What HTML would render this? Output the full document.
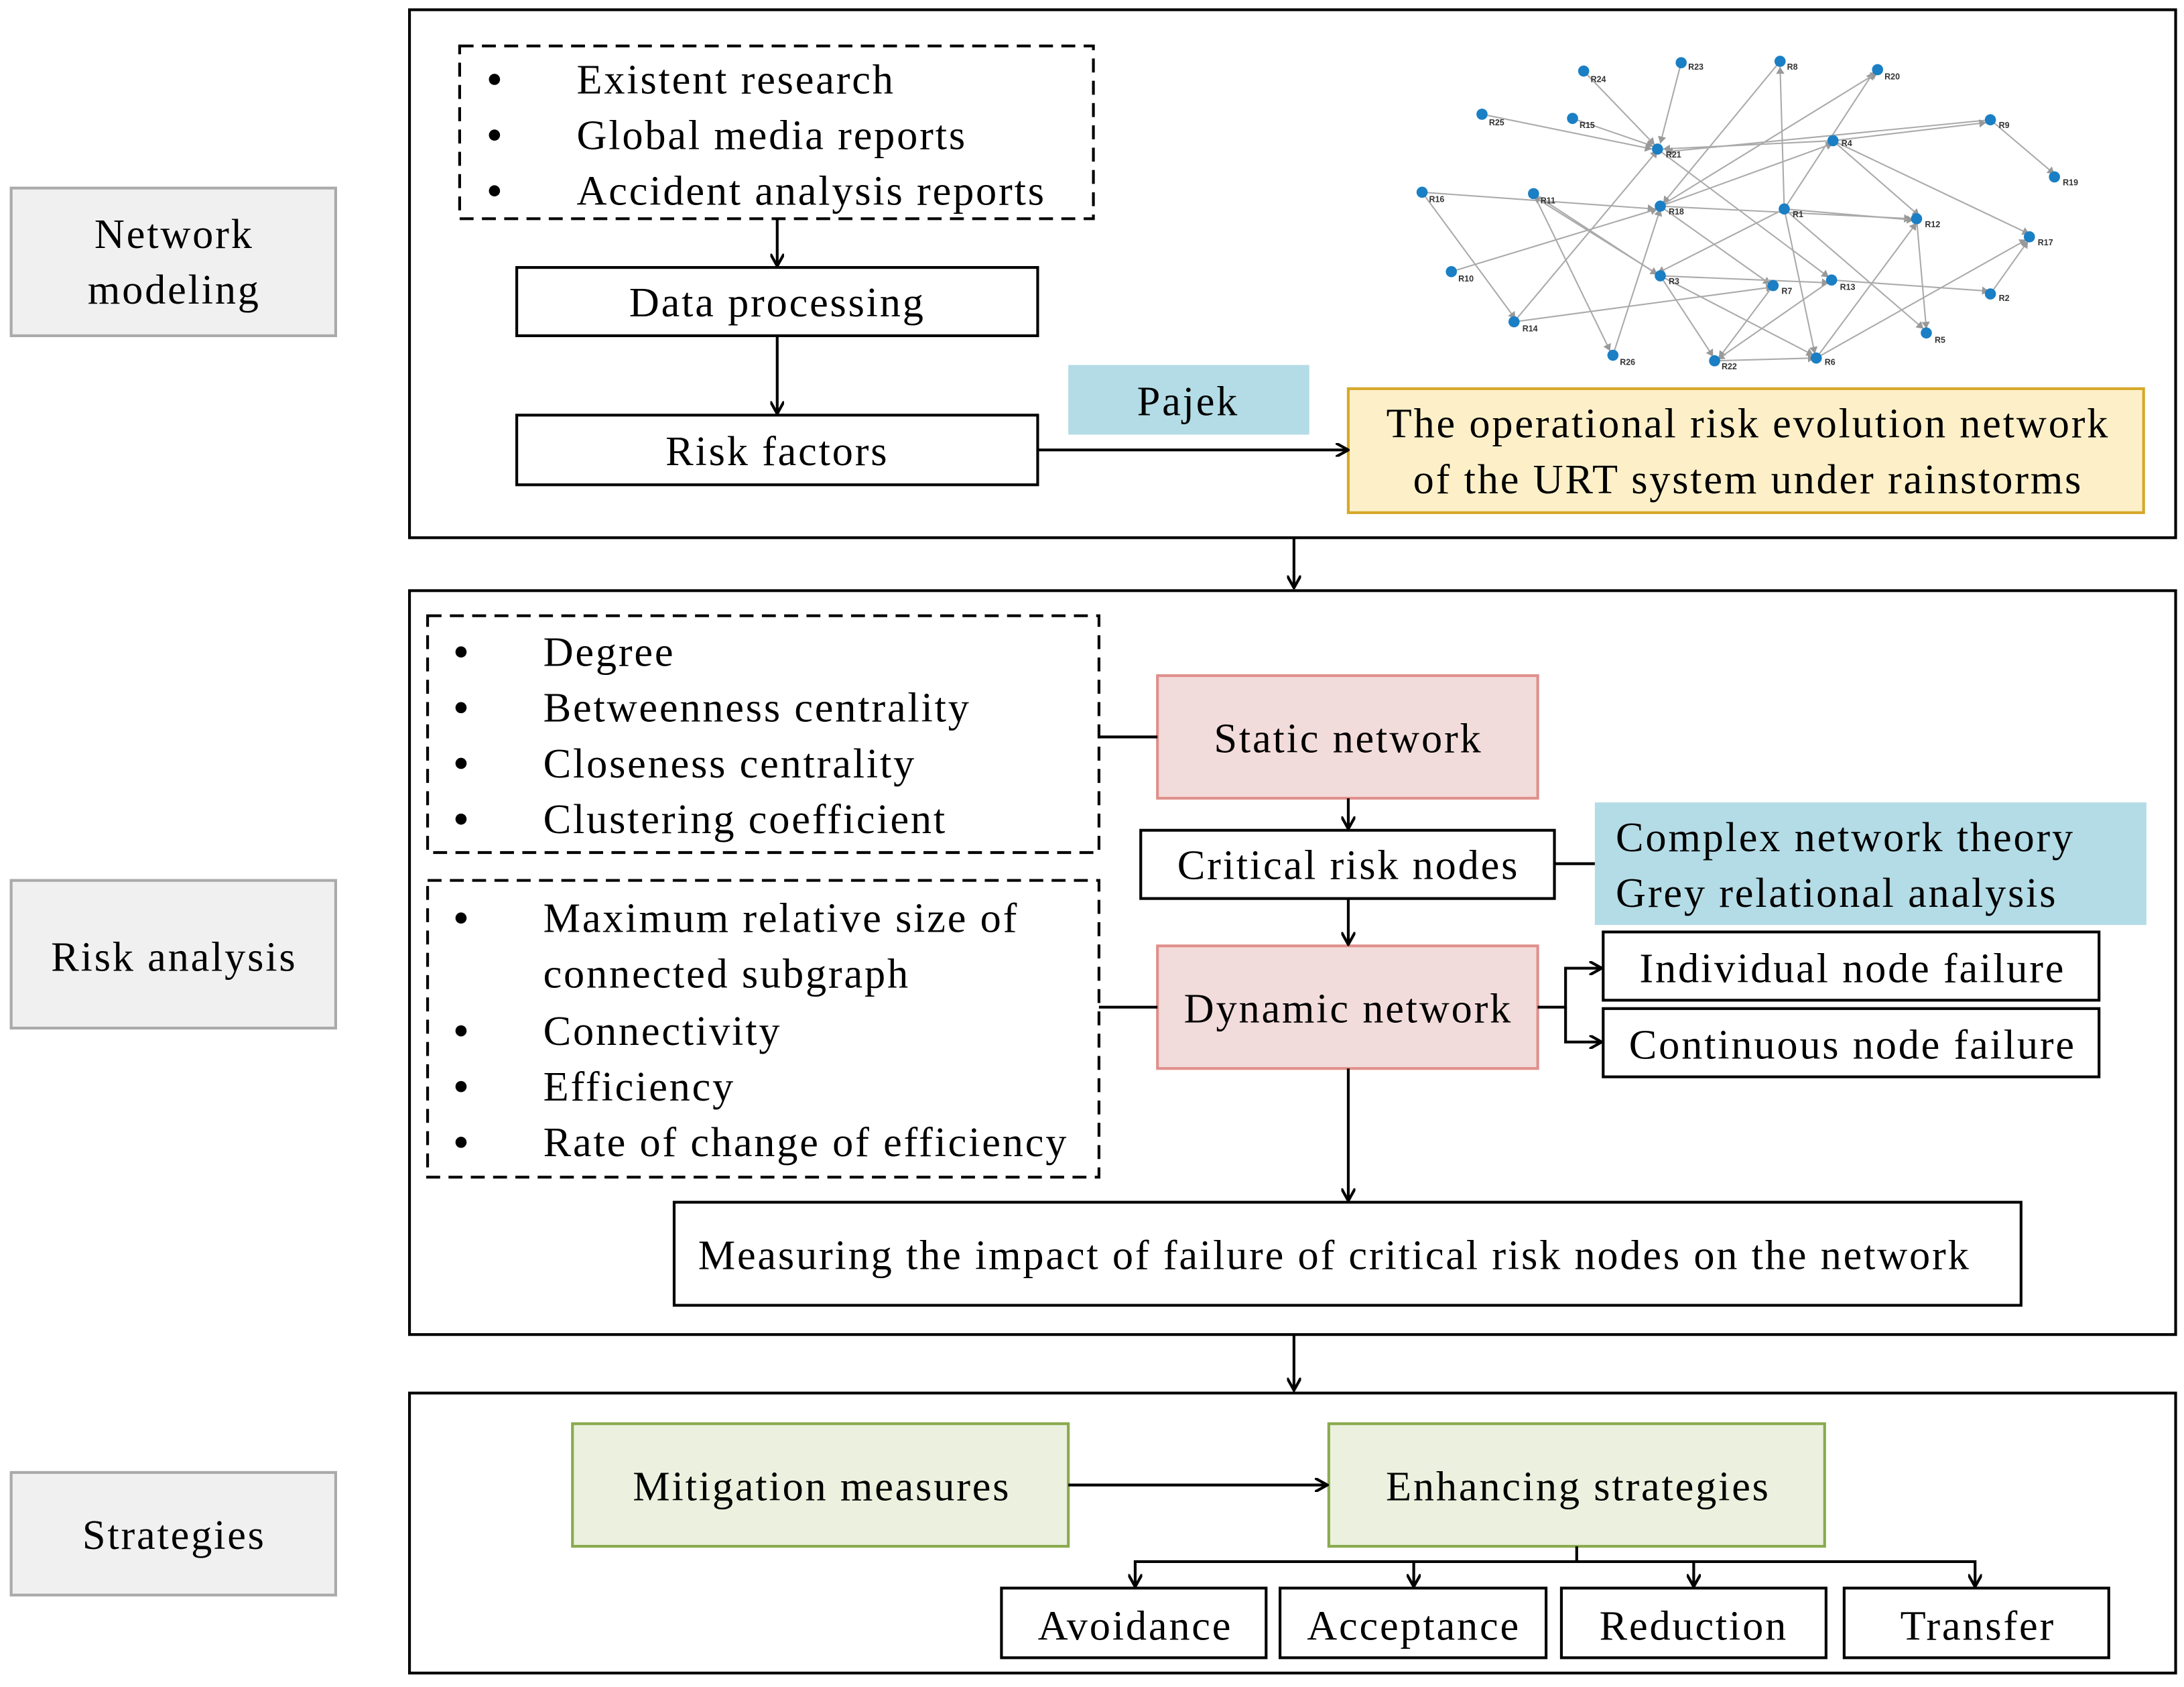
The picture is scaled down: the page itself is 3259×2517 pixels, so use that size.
<!DOCTYPE html>
<html><head><meta charset="utf-8"><style>html,body{margin:0;padding:0;background:#fff}svg{display:block}</style></head>
<body>
<svg xmlns="http://www.w3.org/2000/svg" width="3259" height="2517" viewBox="0 0 1568 1211" font-family="Liberation Serif, serif" font-size="30" letter-spacing="1.35">
<defs>
<marker id="a" markerWidth="10" markerHeight="10" refX="9" refY="5" orient="auto" markerUnits="userSpaceOnUse"><path d="M0,0 L9,5 L0,10" fill="none" stroke="#000" stroke-width="2"/></marker>
<marker id="s" markerWidth="6" markerHeight="6" refX="5" refY="3" orient="auto" markerUnits="userSpaceOnUse"><path d="M0,0 L5,3 L0,6z" fill="#999"/></marker>
</defs>
<g fill="#f0f0f0" stroke="#aaa" stroke-width="2">
<rect x="8" y="135" width="233" height="106"/><rect x="8" y="632" width="233" height="106"/><rect x="8" y="1057" width="233" height="88"/>
</g>
<g text-anchor="middle" fill="#000">
<text x="125" y="178">Network</text><text x="125" y="218">modeling</text>
<text x="125" y="697">Risk analysis</text><text x="125" y="1112">Strategies</text>
</g>
<g fill="none" stroke="#000" stroke-width="2">
<rect x="294" y="7" width="1268" height="379"/><rect x="294" y="424" width="1268" height="534"/><rect x="294" y="1000" width="1268" height="201"/>
<rect x="330" y="33" width="455" height="124" stroke-dasharray="10,6"/>
<rect x="371" y="192" width="374" height="49"/><rect x="371" y="298" width="374" height="50"/>
<rect x="307" y="442" width="482" height="170" stroke-dasharray="10,6"/>
<rect x="307" y="632" width="482" height="213" stroke-dasharray="10,6"/>
<rect x="819" y="596" width="297" height="49"/>
<rect x="1151" y="669" width="356" height="49"/><rect x="1151" y="724" width="356" height="49"/>
<rect x="484" y="863" width="967" height="74"/>
<rect x="719" y="1140" width="190" height="50"/><rect x="919" y="1140" width="191" height="50"/><rect x="1121" y="1140" width="190" height="50"/><rect x="1324" y="1140" width="190" height="50"/>
</g>
<rect x="767" y="262" width="173" height="50" fill="#b4dce6"/>
<rect x="1145" y="576" width="396" height="88" fill="#b4dce6"/>
<rect x="968" y="279" width="571" height="89" fill="#fdf0c8" stroke="#d6a82a" stroke-width="2"/>
<rect x="831" y="485" width="273" height="88" fill="#f2dcdb" stroke="#e0908c" stroke-width="2"/>
<rect x="831" y="679" width="273" height="88" fill="#f2dcdb" stroke="#e0908c" stroke-width="2"/>
<rect x="411" y="1022" width="356" height="88" fill="#ebf1de" stroke="#8aaa4e" stroke-width="2"/>
<rect x="954" y="1022" width="356" height="88" fill="#ebf1de" stroke="#8aaa4e" stroke-width="2"/>
<g fill="#000">
<circle cx="355" cy="57" r="4"/><circle cx="355" cy="97" r="4"/><circle cx="355" cy="137" r="4"/>
<circle cx="331" cy="468" r="4"/><circle cx="331" cy="508" r="4"/><circle cx="331" cy="548" r="4"/><circle cx="331" cy="588" r="4"/>
<circle cx="331" cy="659" r="4"/><circle cx="331" cy="740" r="4"/><circle cx="331" cy="780" r="4"/><circle cx="331" cy="820" r="4"/>
<text x="414" y="67">Existent research</text><text x="414" y="107">Global media reports</text><text x="414" y="147">Accident analysis reports</text>
<text x="390" y="478">Degree</text><text x="390" y="518">Betweenness centrality</text><text x="390" y="558">Closeness centrality</text><text x="390" y="598">Clustering coefficient</text>
<text x="390" y="669">Maximum relative size of</text><text x="390" y="709">connected subgraph</text><text x="390" y="750">Connectivity</text><text x="390" y="790">Efficiency</text><text x="390" y="830">Rate of change of efficiency</text>
<text x="1160" y="611">Complex network theory</text><text x="1160" y="651">Grey relational analysis</text>
</g>
<g text-anchor="middle" fill="#000">
<text x="558" y="227">Data processing</text><text x="558" y="334">Risk factors</text>
<text x="853" y="298">Pajek</text>
<text x="1255" y="314">The operational risk evolution network</text><text x="1255" y="354">of the URT system under rainstorms</text>
<text x="968" y="540">Static network</text><text x="968" y="631">Critical risk nodes</text><text x="968" y="734">Dynamic network</text>
<text x="1330" y="705">Individual node failure</text><text x="1330" y="760">Continuous node failure</text>
<text x="958" y="911">Measuring the impact of failure of critical risk nodes on the network</text>
<text x="590" y="1077">Mitigation measures</text><text x="1133" y="1077">Enhancing strategies</text>
<text x="815" y="1177">Avoidance</text><text x="1015" y="1177">Acceptance</text><text x="1216" y="1177">Reduction</text><text x="1420" y="1177">Transfer</text>
</g>
<g fill="none" stroke="#000" stroke-width="2" marker-end="url(#a)">
<path d="M558,157 V191"/><path d="M558,241 V297"/><path d="M745,323 H968"/>
<path d="M929,386 V422"/><path d="M968,573 V595"/><path d="M968,645 V678"/>
<path d="M968,767 V862"/><path d="M929,958 V998"/>
<path d="M1104,723 H1124 V695 H1150"/><path d="M1124,723 V748 H1150"/>
<path d="M767,1066 H953"/>
<path d="M1132,1110 V1121 H815 V1139"/><path d="M1015,1121 V1139"/><path d="M1216,1121 V1139"/><path d="M1132,1121 H1418 V1139"/>
</g>
<g stroke="#000" stroke-width="2"><path d="M789,529 H831"/><path d="M789,723 H831"/><path d="M1116,620 H1145"/></g>
<g stroke="#aaa" stroke-width="1" marker-end="url(#s)" fill="none">
<path d="M1137,51 L1188,104"/><path d="M1207,45 L1192,103"/><path d="M1278,44 L1194,146"/><path d="M1064,82 L1186,107"/><path d="M1129,85 L1187,105"/>
<path d="M1316,101 L1194,107"/><path d="M1429,86 L1196,109"/><path d="M1429,86 L1475,125"/><path d="M1281,150 L1278,48"/><path d="M1281,150 L1345,52"/>
<path d="M1021,138 L1188,150"/><path d="M1101,139 L1156,252"/><path d="M1192,148 L1348,52"/><path d="M1192,148 L1316,103"/><path d="M1192,148 L1372,157"/>
<path d="M1281,150 L1374,158"/><path d="M1281,150 L1381,236"/><path d="M1281,150 L1303,254"/><path d="M1281,150 L1190,196"/><path d="M1316,101 L1426,88"/>
<path d="M1316,101 L1457,168"/><path d="M1316,101 L1378,155"/><path d="M1042,195 L1190,150"/><path d="M1192,198 L1230,256"/><path d="M1192,198 L1302,255"/>
<path d="M1192,198 L1101,141"/><path d="M1273,205 L1234,257"/><path d="M1315,201 L1233,258"/><path d="M1315,201 L1428,209"/><path d="M1376,157 L1383,236"/>
<path d="M1429,211 L1456,173"/><path d="M1087,231 L1190,108"/><path d="M1087,231 L1273,206"/><path d="M1158,255 L1192,150"/><path d="M1231,259 L1303,257"/>
<path d="M1304,257 L1376,160"/><path d="M1304,257 L1455,172"/><path d="M1190,107 L1313,199"/><path d="M1192,148 L1271,204"/><path d="M1101,139 L1190,197"/>
<path d="M1192,198 L1313,203"/><path d="M1021,138 L1088,229"/>
</g>
<g fill="#1a7fc4">
<circle cx="1137" cy="51" r="4"/><circle cx="1207" cy="45" r="4"/><circle cx="1278" cy="44" r="4"/><circle cx="1348" cy="50" r="4"/><circle cx="1064" cy="82" r="4"/><circle cx="1129" cy="85" r="4"/><circle cx="1190" cy="107" r="4"/><circle cx="1316" cy="101" r="4"/><circle cx="1429" cy="86" r="4"/><circle cx="1475" cy="127" r="4"/><circle cx="1021" cy="138" r="4"/><circle cx="1101" cy="139" r="4"/><circle cx="1192" cy="148" r="4"/><circle cx="1281" cy="150" r="4"/><circle cx="1376" cy="157" r="4"/><circle cx="1457" cy="170" r="4"/><circle cx="1042" cy="195" r="4"/><circle cx="1192" cy="198" r="4"/><circle cx="1273" cy="205" r="4"/><circle cx="1315" cy="201" r="4"/><circle cx="1429" cy="211" r="4"/><circle cx="1087" cy="231" r="4"/><circle cx="1383" cy="239" r="4"/><circle cx="1158" cy="255" r="4"/><circle cx="1231" cy="259" r="4"/><circle cx="1304" cy="257" r="4"/>
</g>
<g font-family="Liberation Sans, sans-serif" font-size="6" font-weight="bold" fill="#333" letter-spacing="0">
<text x="1142" y="59">R24</text><text x="1212" y="50">R23</text><text x="1283" y="50">R8</text><text x="1353" y="57">R20</text><text x="1069" y="90">R25</text><text x="1134" y="92">R15</text><text x="1196" y="113">R21</text><text x="1322" y="105">R4</text><text x="1435" y="92">R9</text><text x="1481" y="133">R19</text><text x="1026" y="145">R16</text><text x="1106" y="146">R11</text><text x="1198" y="154">R18</text><text x="1287" y="156">R1</text><text x="1382" y="163">R12</text><text x="1463" y="176">R17</text><text x="1047" y="202">R10</text><text x="1198" y="204">R3</text><text x="1279" y="211">R7</text><text x="1321" y="208">R13</text><text x="1435" y="216">R2</text><text x="1093" y="238">R14</text><text x="1389" y="246">R5</text><text x="1163" y="262">R26</text><text x="1236" y="265">R22</text><text x="1310" y="262">R6</text>
</g>
</svg>
</body></html>
